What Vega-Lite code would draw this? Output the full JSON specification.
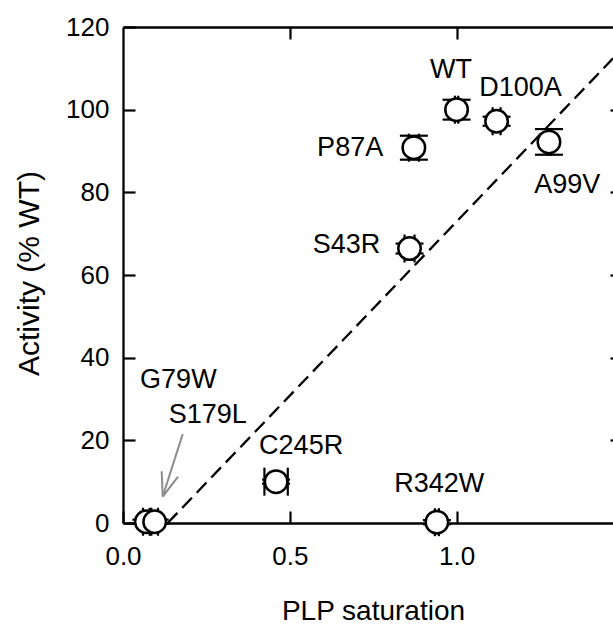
{
  "$schema": "https://vega.github.io/schema/vega-lite/v6.json",
  "width": 490,
  "height": 496,
  "autosize": {"type": "none"},
  "padding": {"left": 123, "top": 27, "right": 0, "bottom": 103},
  "background": "white",
  "config": {
    "view": {"stroke": null},
    "font": "Liberation Sans",
    "axis": {
      "domainColor": "black", "domainWidth": 2.3, "tickColor": "black", "tickWidth": 2.2,
      "labelColor": "black", "titleColor": "black", "labelFont": "Liberation Sans", "titleFont": "Liberation Sans",
      "labelFontSize": 26, "titleFontSize": 28, "titleFontWeight": "normal", "grid": false,
      "labelFlush": false, "labelOverlap": false, "labelBound": false
    }
  },
  "datasets": {
    "points": [
      {"mutant": "WT", "x": 1.0, "y": 100.0, "xerr": 0.005, "yerr": 2.4},
      {"mutant": "D100A", "x": 1.12, "y": 97.2, "xerr": 0.012, "yerr": 1.1},
      {"mutant": "A99V", "x": 1.277, "y": 92.2, "xerr": 0.005, "yerr": 3.1},
      {"mutant": "P87A", "x": 0.872, "y": 90.8, "xerr": 0.015, "yerr": 2.9},
      {"mutant": "S43R", "x": 0.859, "y": 66.4, "xerr": 0.015, "yerr": 1.2},
      {"mutant": "C245R", "x": 0.459, "y": 10.0, "xerr": 0.035, "yerr": 0.5},
      {"mutant": "R342W", "x": 0.941, "y": 0.2, "xerr": 0.006, "yerr": 0.5},
      {"mutant": "G79W", "x": 0.07, "y": 0.3, "xerr": 0.01, "yerr": 0.5},
      {"mutant": "S179L", "x": 0.095, "y": 0.3, "xerr": 0.01, "yerr": 0.5}
    ],
    "labels": [
      {"text": "WT", "x": 0.983, "y": 109.6},
      {"text": "D100A", "x": 1.192, "y": 105.2},
      {"text": "A99V", "x": 1.332, "y": 81.8},
      {"text": "P87A", "x": 0.681, "y": 90.7},
      {"text": "S43R", "x": 0.670, "y": 67.3},
      {"text": "C245R", "x": 0.534, "y": 18.7},
      {"text": "G79W", "x": 0.166, "y": 34.6},
      {"text": "S179L", "x": 0.254, "y": 26.1},
      {"text": "R342W", "x": 0.948, "y": 9.4}
    ],
    "fit": [
      {"x": 0.134, "y": 0.0},
      {"x": 1.469, "y": 112.4}
    ],
    "arrow": [
      {"x": 0.179, "y": 21.5, "x2": 0.119, "y2": 6.4},
      {"x": 0.119, "y": 6.4, "x2": 0.116, "y2": 12.5},
      {"x": 0.119, "y": 6.4, "x2": 0.165, "y2": 11.2}
    ]
  },
  "resolve": {"axis": {"x": "independent", "y": "independent"}},
  "layer": [
    {
      "data": {"name": "fit"},
      "mark": {"type": "line", "strokeDash": [14, 7], "strokeWidth": 2.3, "color": "black"},
      "encoding": {
        "x": {"field": "x", "type": "quantitative", "scale": {"domain": [0, 1.469], "nice": false, "zero": false},
          "axis": {"orient": "bottom", "values": [0, 0.5, 1.0], "format": ".1f", "tickSize": -12, "labelPadding": 32,
            "title": "PLP saturation", "titleX": 250, "titleY": 96, "titleBaseline": "alphabetic", "titleAlign": "center", "titleAnchor": "start"}},
        "y": {"field": "y", "type": "quantitative", "scale": {"domain": [0, 120], "nice": false},
          "axis": {"orient": "left", "values": [0, 20, 40, 60, 80, 100, 120], "tickSize": -12, "labelPadding": 26,
            "title": "Activity (% WT)", "titleFontSize": 30, "titleX": -85, "titleY": 246, "titleAngle": -90, "titleBaseline": "alphabetic", "titleAlign": "center", "titleAnchor": "start"}}
      }
    },
    {
      "data": {"name": "arrow"},
      "mark": {"type": "rule", "color": "#8c8c8c", "strokeWidth": 2},
      "encoding": {
        "x": {"field": "x", "type": "quantitative", "axis": {"orient": "top", "values": [0.5, 1.0], "tickSize": -12, "labels": false, "title": null}},
        "y": {"field": "y", "type": "quantitative", "axis": {"orient": "right", "values": [20, 40, 60, 80, 100], "tickSize": -3, "labels": false, "domain": false, "title": null}},
        "x2": {"field": "x2"},
        "y2": {"field": "y2"}
      }
    },
    {
      "data": {"name": "points"},
      "transform": [
        {"calculate": "datum.y - datum.yerr", "as": "ylo"},
        {"calculate": "datum.y + datum.yerr", "as": "yhi"}
      ],
      "mark": {"type": "rule", "color": "black", "strokeWidth": 2.2},
      "encoding": {
        "x": {"field": "x", "type": "quantitative", "axis": null},
        "y": {"field": "ylo", "type": "quantitative", "axis": null},
        "y2": {"field": "yhi"}
      }
    },
    {
      "data": {"name": "points"},
      "transform": [
        {"calculate": "datum.x - datum.xerr", "as": "xlo"},
        {"calculate": "datum.x + datum.xerr", "as": "xhi"}
      ],
      "mark": {"type": "rule", "color": "black", "strokeWidth": 2.2},
      "encoding": {
        "x": {"field": "xlo", "type": "quantitative", "axis": null},
        "x2": {"field": "xhi"},
        "y": {"field": "y", "type": "quantitative", "axis": null}
      }
    },
    {
      "data": {"name": "points"},
      "transform": [
        {"calculate": "datum.y - datum.yerr", "as": "ylo"},
        {"calculate": "datum.y + datum.yerr", "as": "yhi"},
        {"fold": ["ylo", "yhi"], "as": ["k", "yc"]}
      ],
      "mark": {"type": "tick", "orient": "horizontal", "color": "black", "size": 28, "thickness": 2.2, "opacity": 1},
      "encoding": {
        "x": {"field": "x", "type": "quantitative", "axis": null},
        "y": {"field": "yc", "type": "quantitative", "axis": null}
      }
    },
    {
      "data": {"name": "points"},
      "transform": [
        {"calculate": "datum.x - datum.xerr", "as": "xlo"},
        {"calculate": "datum.x + datum.xerr", "as": "xhi"},
        {"fold": ["xlo", "xhi"], "as": ["k", "xc"]}
      ],
      "mark": {"type": "tick", "orient": "vertical", "color": "black", "size": 28, "thickness": 2.2, "opacity": 1},
      "encoding": {
        "x": {"field": "xc", "type": "quantitative", "axis": null},
        "y": {"field": "y", "type": "quantitative", "axis": null}
      }
    },
    {
      "data": {"name": "points"},
      "mark": {"type": "point", "shape": "circle", "fill": "white", "stroke": "black", "strokeWidth": 2.5, "size": 506, "opacity": 1, "fillOpacity": 1},
      "encoding": {
        "x": {"field": "x", "type": "quantitative", "axis": null},
        "y": {"field": "y", "type": "quantitative", "axis": null}
      }
    },
    {
      "data": {"name": "labels"},
      "mark": {"type": "text", "align": "center", "baseline": "middle", "fontSize": 27, "font": "Liberation Sans", "color": "black"},
      "encoding": {
        "x": {"field": "x", "type": "quantitative", "axis": null},
        "y": {"field": "y", "type": "quantitative", "axis": null},
        "text": {"field": "text"}
      }
    }
  ]
}
